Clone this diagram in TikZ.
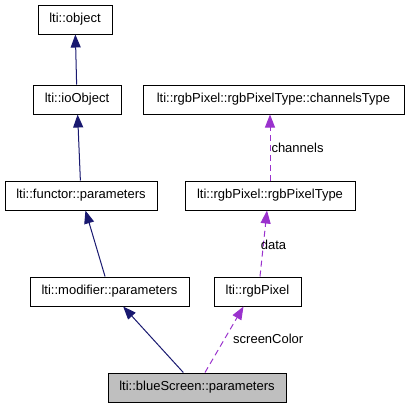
\documentclass[tikz,border=0pt]{standalone}
\usepackage{fontspec}
\setmainfont{Liberation Sans}
\usepackage{xcolor}
\usepackage{tikz}
\usetikzlibrary{arrows.meta}
\definecolor{inhblue}{HTML}{191970}
\definecolor{usepurple}{HTML}{9A32CD}
\tikzstyle{cls}=[draw=black, line width=1pt, minimum height=29pt, inner sep=0pt, font=\fontsize{13}{15}\selectfont]
\tikzstyle{cur}=[cls, fill=black!25]
\tikzstyle{inh}=[draw=inhblue, line width=1pt, -{Triangle[length=13pt,width=10pt]}]
\tikzstyle{use}=[draw=usepurple, line width=1pt, dash pattern=on 6pt off 4pt, -{Triangle[length=13pt,width=10pt]}]
\tikzstyle{lbl}=[font=\fontsize{13}{15}\selectfont, inner sep=0pt, anchor=west]

\begin{document}
\begin{tikzpicture}[x=1pt, y=-1pt]
\useasboundingbox (0,0) rectangle (408,408);
\node[cls, minimum width=74pt] (object) at (75,19.5) {lti::object};
\node[cls, minimum width=88pt] (ioobject) at (77,99.5) {lti::ioObject};
\node[cls, minimum width=152pt] (functor) at (81,195.5) {lti::functor::parameters};
\node[cls, minimum width=159pt] (modifier) at (109.5,291.5) {lti::modifier::parameters};
\node[cur, minimum width=178pt] (bluescreen) at (197,387.5) {lti::blueScreen::parameters};
\node[cls, minimum width=261pt] (chantype) at (273.5,99.5) {lti::rgbPixel::rgbPixelType::channelsType};
\node[cls, minimum width=170pt] (pixeltype) at (270,195.5) {lti::rgbPixel::rgbPixelType};
\node[cls, minimum width=87pt] (rgbpixel) at (257.5,291.5) {lti::rgbPixel};
% inheritance
\draw[inh] (ioobject) -- (object);
\draw[inh] (functor) -- (ioobject);
\draw[inh] (modifier) -- (functor);
\draw[inh] (bluescreen) -- (modifier);
% usage
\draw[use] ([xshift=8pt]bluescreen.north) -- ([xshift=-14pt]rgbpixel.south);
\draw[use] ([xshift=2.5pt]rgbpixel.north) -- node[lbl, pos=0.48, xshift=-3pt] {data} ([xshift=-3pt]pixeltype.south);
\draw[use] (pixeltype.north) -- node[lbl, pos=0.5, xshift=1pt] {channels} (pixeltype.north |- chantype.south);
\node[lbl] (scrlbl) at (233,339) {screenColor};
\end{tikzpicture}
\end{document}
